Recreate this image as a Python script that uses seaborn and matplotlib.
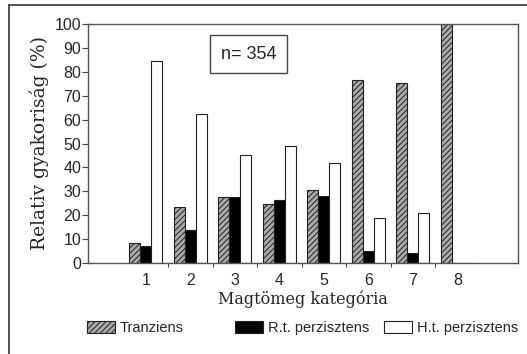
import numpy as np
import pandas as pd
import matplotlib
matplotlib.use("Agg")
import matplotlib.pyplot as plt
from matplotlib.patches import Patch
import seaborn as sns

# data
categories = ["1", "2", "3", "4", "5", "6", "7", "8"]
tranziens = [8.5, 23.5, 27.5, 24.5, 30.5, 76.5, 75.5, 100]
rt_perzisztens = [7, 14, 27.5, 26.5, 28, 5, 4, 0]
ht_perzisztens = [84.5, 62.5, 45, 49, 42, 19, 21, 0]
series_names = ["Tranziens", "R.t. perzisztens", "H.t. perzisztens"]
y_ticks = list(range(0, 101, 10))

sns.set_theme(style="white")
plt.rcParams["font.family"] = ["Liberation Sans", "DejaVu Sans"]
plt.rcParams["hatch.linewidth"] = 0.7
plt.rcParams["hatch.color"] = "#222222"

df = pd.DataFrame({
    "kat": categories * 3,
    "ertek": tranziens + rt_perzisztens + ht_perzisztens,
    "tipus": [series_names[0]] * 8 + [series_names[1]] * 8 + [series_names[2]] * 8,
})

fig = plt.figure(figsize=(5.27, 3.54), dpi=100)
ax = fig.add_axes([88 / 527, 1 - 263 / 354, 430 / 527, 239 / 354])

colors = {"Tranziens": "#aaaaaa", "R.t. perzisztens": "black", "H.t. perzisztens": "white"}
sns.barplot(data=df, x="kat", y="ertek", hue="tipus", order=categories,
            hue_order=series_names, palette=colors, width=0.74,
            edgecolor="#222222", linewidth=0.8, saturation=1, legend=False, ax=ax)

# first hue level gets the hatching
n = len(categories)
for bar in ax.patches[:n]:
    bar.set_hatch("//////")

ax.set_xlim(-1.3, 8.36)
ax.set_ylim(0, 100)
ax.set_yticks(y_ticks)
ax.tick_params(axis="y", direction="out", length=4, width=0.8, pad=1,
               labelsize=11.5, color="#444444", left=True)
ax.tick_params(axis="x", which="major", length=0, pad=7, labelsize=11.5)
ax.set_xticks(np.arange(0.5, 7, 1), minor=True)
ax.tick_params(axis="x", which="minor", direction="out", length=3, width=0.8,
               color="#444444", bottom=True)
for s in ax.spines.values():
    s.set_color("#555555")
    s.set_linewidth(1.0)

ax.set_xlabel("Magtömeg kategória", family="DejaVu Serif", fontsize=11.5, labelpad=2)
ax.set_ylabel("Relativ gyakoriság (%)", family="DejaVu Serif", fontsize=13.5, labelpad=4)

ax.text(0.374, 0.874, "n= 354", transform=ax.transAxes, ha="center", va="center",
        fontsize=13, bbox=dict(boxstyle="square,pad=0.6", fc="white", ec="#444444", lw=1))

# legend entries placed along the bottom
handles = [
    Patch(facecolor="#aaaaaa", edgecolor="#222222", hatch="//////", linewidth=0.8),
    Patch(facecolor="black", edgecolor="#222222", linewidth=0.8),
    Patch(facecolor="white", edgecolor="#222222", linewidth=0.8),
]
for h, name, x0 in zip(handles, series_names, [81, 229, 378]):
    fig.legend([h], [name], loc="center left", bbox_to_anchor=(x0 / 527, 1 - 328 / 354),
               frameon=False, fontsize=10.5, handlelength=1.9, handleheight=0.9,
               handletextpad=0.35, borderaxespad=0)

# frame lines around the picture (top and left)
fig.add_artist(plt.Line2D([9 / 527, 9 / 527], [0, 1 - 5 / 354], color="#333333", lw=1.2))
fig.add_artist(plt.Line2D([9 / 527, 1], [1 - 5 / 354, 1 - 5 / 354], color="#333333", lw=1.2))

fig.savefig("out.png", dpi=100)
